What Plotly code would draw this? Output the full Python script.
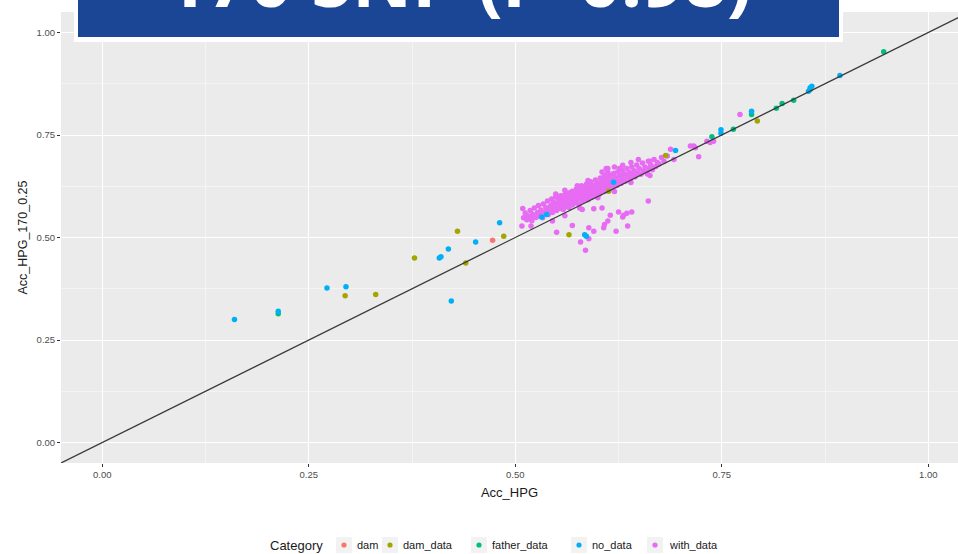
import plotly.graph_objects as go

# ---------------- data ----------------
categories = ["dam", "dam_data", "father_data", "no_data", "with_data"]
colors = ["#F8766D", "#A3A500", "#00BF7D", "#00B0F6", "#E76BF3"]

dam_x = [0.4725]
dam_y = [0.493]

dam_data_x = [0.294, 0.331, 0.378, 0.430, 0.440, 0.486, 0.565, 0.613, 0.682, 0.793]
dam_data_y = [0.358, 0.361, 0.450, 0.515, 0.438, 0.503, 0.507, 0.613, 0.700, 0.784]

father_data_x = [0.213, 0.738, 0.764, 0.786, 0.816, 0.823, 0.837, 0.857, 0.946]
father_data_y = [0.314, 0.746, 0.764, 0.800, 0.815, 0.827, 0.835, 0.861, 0.953]

no_data_x = [0.160, 0.213, 0.272, 0.295, 0.408, 0.410, 0.419, 0.4225, 0.452, 0.481,
             0.532, 0.538, 0.584, 0.586, 0.619, 0.694, 0.749, 0.749, 0.786, 0.857,
             0.855, 0.859, 0.893]
no_data_y = [0.300, 0.320, 0.377, 0.380, 0.450, 0.453, 0.472, 0.345, 0.489, 0.536,
             0.550, 0.556, 0.507, 0.503, 0.635, 0.712, 0.763, 0.754, 0.808, 0.865,
             0.857, 0.869, 0.895]

with_data_x = [
    0.510, 0.512, 0.515, 0.518, 0.520, 0.521, 0.523, 0.525, 0.527, 0.528,
    0.530, 0.531, 0.533, 0.534, 0.536, 0.537, 0.539, 0.540, 0.541, 0.543,
    0.544, 0.545, 0.547, 0.548, 0.549, 0.550, 0.551, 0.553, 0.554, 0.555,
    0.556, 0.557, 0.558, 0.559, 0.560, 0.561, 0.562, 0.563, 0.564, 0.565,
    0.566, 0.567, 0.568, 0.569, 0.570, 0.571, 0.572, 0.573, 0.574, 0.575,
    0.576, 0.577, 0.578, 0.579, 0.580, 0.581, 0.582, 0.583, 0.584, 0.585,
    0.586, 0.587, 0.588, 0.589, 0.590, 0.591, 0.592, 0.593, 0.594, 0.595,
    0.596, 0.597, 0.598, 0.599, 0.600, 0.601, 0.602, 0.603, 0.604, 0.605,
    0.606, 0.607, 0.608, 0.609, 0.610, 0.611, 0.612, 0.613, 0.614, 0.615,
    0.616, 0.617, 0.618, 0.619, 0.620, 0.622, 0.623, 0.624, 0.625, 0.627,
    0.628, 0.629, 0.630, 0.632, 0.633, 0.635, 0.636, 0.638, 0.639, 0.641,
    0.642, 0.644, 0.645, 0.647, 0.648, 0.650, 0.652, 0.654, 0.655, 0.657,
    0.659, 0.661, 0.662, 0.664, 0.666, 0.668, 0.670, 0.672, 0.674, 0.677,
    0.680, 0.684,
    0.546, 0.552, 0.558, 0.563, 0.569, 0.574, 0.580, 0.586, 0.591, 0.597,
    0.603, 0.608, 0.542, 0.537, 0.532, 0.527, 0.519, 0.514, 0.556, 0.561,
    0.566, 0.571, 0.576, 0.581, 0.586, 0.591, 0.596, 0.601, 0.606, 0.611,
    0.616, 0.621, 0.626, 0.631, 0.626, 0.612, 0.588, 0.575, 0.560, 0.549,
    0.545, 0.560, 0.578, 0.600, 0.620, 0.640, 0.660,
    0.612, 0.620, 0.605, 0.630, 0.640, 0.610, 0.649, 0.663,
    # outliers
    0.509, 0.508, 0.519, 0.550, 0.569, 0.579, 0.589, 0.585, 0.589, 0.595,
    0.595, 0.581, 0.605, 0.615, 0.625, 0.631, 0.641, 0.608, 0.612, 0.607,
    0.622, 0.636, 0.661, 0.663, 0.692, 0.716, 0.722, 0.732, 0.740, 0.772,
    0.688, 0.712, 0.718, 0.736, 0.630, 0.635,
]
with_data_y = [
    0.548, 0.560, 0.553, 0.566, 0.541, 0.557, 0.572, 0.549, 0.561, 0.578,
    0.555, 0.567, 0.548, 0.582, 0.560, 0.573, 0.589, 0.556, 0.566, 0.578,
    0.594, 0.561, 0.571, 0.583, 0.599, 0.566, 0.577, 0.588, 0.571, 0.602,
    0.581, 0.593, 0.568, 0.586, 0.605, 0.575, 0.591, 0.583, 0.598, 0.573,
    0.609, 0.587, 0.596, 0.579, 0.603, 0.590, 0.612, 0.584, 0.599, 0.593,
    0.607, 0.582, 0.616, 0.597, 0.604, 0.589, 0.611, 0.598, 0.620, 0.594,
    0.606, 0.614, 0.592, 0.624, 0.603, 0.611, 0.598, 0.618, 0.628, 0.607,
    0.615, 0.601, 0.622, 0.633, 0.611, 0.619, 0.606, 0.628, 0.637, 0.615,
    0.624, 0.642, 0.612, 0.631, 0.620, 0.647, 0.627, 0.617, 0.636, 0.652,
    0.625, 0.641, 0.622, 0.656, 0.633, 0.645, 0.627, 0.660, 0.638, 0.650,
    0.632, 0.664, 0.643, 0.655, 0.637, 0.668, 0.648, 0.659, 0.642, 0.672,
    0.652, 0.663, 0.648, 0.677, 0.657, 0.668, 0.654, 0.682, 0.662, 0.672,
    0.660, 0.686, 0.668, 0.677, 0.665, 0.690, 0.673, 0.683, 0.679, 0.695,
    0.686, 0.699,
    0.586, 0.594, 0.600, 0.608, 0.613, 0.618, 0.626, 0.630, 0.636, 0.640,
    0.645, 0.652, 0.571, 0.564, 0.559, 0.552, 0.547, 0.543, 0.575, 0.581,
    0.590, 0.595, 0.600, 0.604, 0.610, 0.614, 0.620, 0.625, 0.630, 0.634,
    0.640, 0.646, 0.652, 0.657, 0.668, 0.660, 0.639, 0.626, 0.615, 0.606,
    0.540, 0.553, 0.572, 0.597, 0.612, 0.634, 0.655,
    0.668, 0.672, 0.660, 0.676, 0.683, 0.668, 0.690, 0.686,
    # outliers
    0.571, 0.528, 0.528, 0.513, 0.529, 0.489, 0.497, 0.469, 0.524, 0.515,
    0.570, 0.568, 0.572, 0.554, 0.562, 0.554, 0.562, 0.532, 0.540, 0.524,
    0.515, 0.528, 0.589, 0.651, 0.690, 0.723, 0.697, 0.735, 0.735, 0.800,
    0.715, 0.723, 0.719, 0.732, 0.550, 0.559,
]

# reference line y = intercept + slope * x
abline_intercept = 0.0
abline_slope = 1.0

x_ticks = [0.0, 0.25, 0.5, 0.75, 1.0]
x_tick_labels = ["0.00", "0.25", "0.50", "0.75", "1.00"]
y_ticks = [0.0, 0.25, 0.5, 0.75, 1.0]
y_tick_labels = ["0.00", "0.25", "0.50", "0.75", "1.00"]

title_text = "170 SNP (r=0.98)"
legend_title = "Category"

# ---------------- figure ----------------
W, H = 958, 554
ML, MR, MT, MB = 61, 0, 12, 91
plot_w = W - ML - MR
plot_h = H - MT - MB

x_range = [-0.05, -0.05 + plot_w / 826.0]
y_range = [-0.05, 1.05]

series = [
    (dam_x, dam_y),
    (dam_data_x, dam_data_y),
    (father_data_x, father_data_y),
    (no_data_x, no_data_y),
    (with_data_x, with_data_y),
]

fig = go.Figure()
# with_data drawn first so the other categories sit on top
draw_order = [4, 0, 1, 2, 3]
for i in draw_order:
    xs, ys = series[i]
    fig.add_trace(go.Scatter(
        x=xs, y=ys, mode="markers", name=categories[i],
        showlegend=False,
        marker=dict(color=colors[i], size=5.5, line=dict(width=0)),
    ))

x0, x1 = x_range[0] - 0.1, x_range[1] + 0.1
fig.add_shape(type="line", xref="x", yref="y",
              x0=x0, y0=abline_intercept + abline_slope * x0,
              x1=x1, y1=abline_intercept + abline_slope * x1,
              line=dict(color="#3a3a3a", width=1.3), layer="above")


def px_x(p):
    return (p - ML) / plot_w


def px_y(p):
    return (H - MB - p) / plot_h


# title banner (white frame + blue box), partly cut off at the top
fig.add_shape(type="rect", xref="paper", yref="paper",
              x0=px_x(74), x1=px_x(843), y0=px_y(42), y1=px_y(-10),
              fillcolor="white", line=dict(width=0), layer="above")
fig.add_shape(type="rect", xref="paper", yref="paper",
              x0=px_x(78), x1=px_x(839), y0=px_y(37), y1=px_y(-10),
              fillcolor="#1B4696", line=dict(width=0), layer="above")
fig.add_annotation(text="<b>" + title_text + "</b>", xref="paper", yref="paper",
                   x=px_x(458), y=px_y(31), xanchor="center", yanchor="bottom",
                   showarrow=False,
                   font=dict(family="Open Sans", size=74, color="white"))

# ggplot-style legend at the bottom: title, grey key squares with dots, labels
legend_y = 545
legend_title_x = 268
key_centers = [344, 390, 479, 579, 655]
label_lefts = [355, 401, 490, 590, 667]
fig.add_annotation(text=legend_title, xref="paper", yref="paper",
                   x=px_x(legend_title_x), y=px_y(legend_y), xanchor="left", yanchor="middle",
                   showarrow=False,
                   font=dict(family="Liberation Sans", size=13, color="#1a1a1a"))
for i, cat in enumerate(categories):
    kc = key_centers[i]
    fig.add_shape(type="rect", xref="paper", yref="paper",
                  x0=px_x(kc - 8), x1=px_x(kc + 8),
                  y0=px_y(legend_y + 8), y1=px_y(legend_y - 8),
                  fillcolor="#F2F2F2", line=dict(width=0))
    fig.add_shape(type="circle", xref="paper", yref="paper",
                  x0=px_x(kc - 2.6), x1=px_x(kc + 2.6),
                  y0=px_y(legend_y + 2.6), y1=px_y(legend_y - 2.6),
                  fillcolor=colors[i], line=dict(width=0))
    fig.add_annotation(text=cat, xref="paper", yref="paper",
                       x=px_x(label_lefts[i]), y=px_y(legend_y), xanchor="left", yanchor="middle",
                       showarrow=False,
                       font=dict(family="Liberation Sans", size=11, color="#1a1a1a"))

axis_common = dict(
    showline=False, zeroline=False,
    showgrid=True, gridcolor="white", gridwidth=1.1,
    ticks="outside", ticklen=3, tickcolor="#333333", tickwidth=1,
    tickfont=dict(family="Liberation Sans", size=9.5, color="#4D4D4D"),
)

fig.update_xaxes(
    range=x_range, tickvals=x_ticks, ticktext=x_tick_labels,
    title=dict(text="Acc_HPG", font=dict(family="Liberation Sans", size=13, color="#1a1a1a"), standoff=8),
    minor=dict(dtick=0.125, tick0=0.125, showgrid=True, gridcolor="#F4F4F4", gridwidth=0.6, ticks=""),
    **axis_common,
)
fig.update_yaxes(
    range=y_range, tickvals=y_ticks, ticktext=y_tick_labels,
    title=dict(text="Acc_HPG_170_0.25", font=dict(family="Liberation Sans", size=12.5, color="#1a1a1a"), standoff=6),
    minor=dict(dtick=0.125, tick0=0.125, showgrid=True, gridcolor="#F4F4F4", gridwidth=0.6, ticks=""),
    **axis_common,
)

fig.update_layout(
    width=W, height=H,
    margin=dict(l=ML, r=MR, t=MT, b=MB, autoexpand=False),
    paper_bgcolor="white", plot_bgcolor="#EBEBEB",
    showlegend=False,
)

fig.write_html("out.html")
